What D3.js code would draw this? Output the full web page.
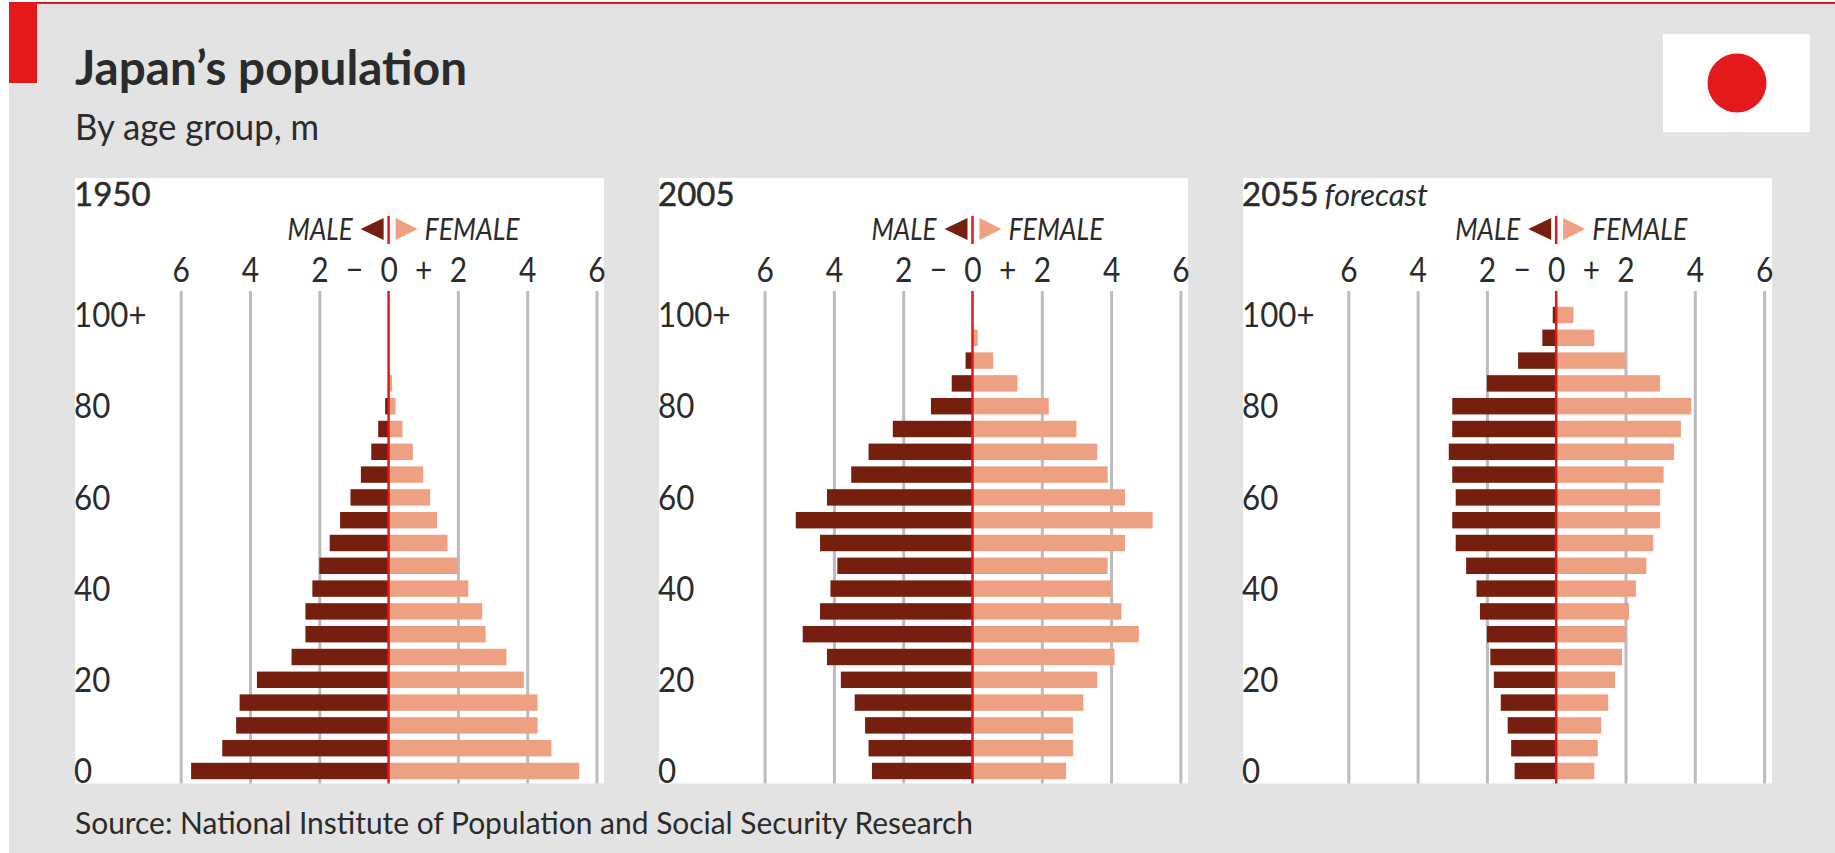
<!DOCTYPE html>
<html>
<head>
<meta charset="utf-8">
<script src="https://cdn.jsdelivr.net/npm/d3@7/dist/d3.min.js"></script>
<style>
html, body { margin: 0; padding: 0; background: #fff; overflow: hidden; }
text { font-family: Lato, "Noto Sans", sans-serif; fill: #2b2b2b; }
</style>
</head>
<body>
<div id="chart-area"></div>
<script>
// Japan's population by age group, millions
const ages = [0, 5, 10, 15, 20, 25, 30, 35, 40, 45, 50, 55, 60, 65, 70, 75, 80, 85, 90, 95, 100]
const ageLabels = [0, 20, 40, 60, 80, 100]
const xTicks = [-6, -4, -2, -1, 0, 1, 2, 4, 6]

const male1950 = [5.7, 4.8, 4.4, 4.3, 3.8, 2.8, 2.4, 2.4, 2.2, 2.0, 1.7, 1.4, 1.1, 0.8, 0.5, 0.3, 0.1, 0, 0, 0, 0]
const female1950 = [5.5, 4.7, 4.3, 4.3, 3.9, 3.4, 2.8, 2.7, 2.3, 2.0, 1.7, 1.4, 1.2, 1.0, 0.7, 0.4, 0.2, 0.1, 0, 0, 0]
const male2005 = [2.9, 3.0, 3.1, 3.4, 3.8, 4.2, 4.9, 4.4, 4.1, 3.9, 4.4, 5.1, 4.2, 3.5, 3.0, 2.3, 1.2, 0.6, 0.2, 0, 0]
const female2005 = [2.7, 2.9, 2.9, 3.2, 3.6, 4.1, 4.8, 4.3, 4.0, 3.9, 4.4, 5.2, 4.4, 3.9, 3.6, 3.0, 2.2, 1.3, 0.6, 0.15, 0]
const male2055 = [1.2, 1.3, 1.4, 1.6, 1.8, 1.9, 2.0, 2.2, 2.3, 2.6, 2.9, 3.0, 2.9, 3.0, 3.1, 3.0, 3.0, 2.0, 1.1, 0.4, 0.1]
const female2055 = [1.1, 1.2, 1.3, 1.5, 1.7, 1.9, 2.0, 2.1, 2.3, 2.6, 2.8, 3.0, 3.0, 3.1, 3.4, 3.6, 3.9, 3.0, 2.0, 1.1, 0.5]

const WIDTH = 1835
const HEIGHT = 853
const RED = "#e3191c"
const DARK = "#761f0e"
const LIGHT = "#eea083"
const UNIT = 34.65 // px per million
const GRID_TOP = 291
const PLOT_BOTTOM = 783.5

const panels = [
  { year: "1950", male: male1950, female: female1950, left: 75, right: 604, zero: 388.6 },
  { year: "2005", male: male2005, female: female2005, left: 659, right: 1188, zero: 972.5 },
  { year: "2055", male: male2055, female: female2055, left: 1243, right: 1772, zero: 1556.2, note: "forecast" }
]

const svg = d3.select("#chart-area").append("svg")
    .attr("width", WIDTH)
    .attr("height", HEIGHT)
    .style("display", "block")

// page furniture
svg.append("rect").attr("x", 9).attr("y", 2).attr("width", WIDTH - 9).attr("height", HEIGHT - 2).attr("fill", "#e3e3e3")
svg.append("rect").attr("x", 9).attr("y", 2).attr("width", WIDTH - 9).attr("height", 2).attr("fill", RED)
svg.append("rect").attr("x", 9).attr("y", 2).attr("width", 28).attr("height", 81).attr("fill", RED)

svg.append("text").attr("x", 75).attr("y", 85)
    .attr("font-size", 48).attr("font-weight", 700)
    .attr("textLength", 392).attr("lengthAdjust", "spacingAndGlyphs")
    .text("Japan’s population")
svg.append("text").attr("x", 75).attr("y", 140)
    .attr("font-size", 36)
    .attr("textLength", 244).attr("lengthAdjust", "spacingAndGlyphs")
    .text("By age group, m")
svg.append("text").attr("x", 75).attr("y", 834)
    .attr("font-size", 31)
    .attr("textLength", 898).attr("lengthAdjust", "spacingAndGlyphs")
    .text("Source: National Institute of Population and Social Security Research")

// flag
svg.append("rect").attr("x", 1663).attr("y", 34).attr("width", 147).attr("height", 98).attr("fill", "#fff")
svg.append("circle").attr("cx", 1737).attr("cy", 83).attr("r", 29.5).attr("fill", RED)

const y = d3.scaleBand()
    .domain(ages)
    .range([782.4, 303.6])
    .paddingInner(0.28)
    .paddingOuter(0.14)

panels.forEach(p => {
  const x = d3.scaleLinear()
      .domain([-6, 6])
      .range([p.zero - 6 * UNIT, p.zero + 6 * UNIT])

  const g = svg.append("g")

  g.append("rect")
      .attr("x", p.left).attr("y", 178)
      .attr("width", p.right - p.left).attr("height", PLOT_BOTTOM - 178)
      .attr("fill", "#fff")

  // panel heading
  const head = g.append("text").attr("x", p.left - 1).attr("y", 206)
  head.append("tspan")
      .attr("font-size", 33)
      .attr("stroke", "#2b2b2b").attr("stroke-width", 0.5)
      .text(p.year)
  if (p.note) {
    head.append("tspan").attr("dx", 6).attr("font-size", 31).attr("font-style", "italic").text(p.note)
  }

  // x axis with gridlines
  const xAxisCall = d3.axisTop(x)
      .tickValues(xTicks)
      .tickSize(-(PLOT_BOTTOM - GRID_TOP))
      .tickPadding(9)
      .tickFormat(d => d === -1 ? "−" : d === 1 ? "+" : Math.abs(d))

  const xAxisGroup = g.append("g")
      .attr("class", "x axis")
      .attr("transform", `translate(0, ${GRID_TOP})`)
      .call(xAxisCall)
  xAxisGroup.select(".domain").remove()
  xAxisGroup.selectAll(".tick line")
      .attr("stroke", "#bcbcbc")
      .attr("stroke-width", 3)
      .attr("display", d => (d === 0 || Math.abs(d) === 1) ? "none" : null)
  xAxisGroup.selectAll(".tick text")
      .attr("font-size", 34)
      .attr("font-family", "Lato")
      .attr("fill", "#2b2b2b")
      .attr("transform", "scale(0.88,1)")

  // age labels
  g.selectAll(".age")
    .data(ageLabels)
    .enter().append("text")
      .attr("class", "age")
      .attr("transform", d => `translate(${p.left - 1}, ${y(d) + y.bandwidth() / 2}) scale(0.92,1)`)
      .attr("dy", "0.36em")
      .attr("font-size", 34)
      .text(d => d === 100 ? "100+" : d)

  // bars
  g.selectAll(".male")
    .data(ages)
    .enter().append("rect")
      .attr("class", "male")
      .attr("x", (d, i) => x(-p.male[i]))
      .attr("y", d => y(d))
      .attr("width", (d, i) => x(0) - x(-p.male[i]))
      .attr("height", y.bandwidth())
      .attr("fill", DARK)

  g.selectAll(".female")
    .data(ages)
    .enter().append("rect")
      .attr("class", "female")
      .attr("x", x(0))
      .attr("y", d => y(d))
      .attr("width", (d, i) => x(p.female[i]) - x(0))
      .attr("height", y.bandwidth())
      .attr("fill", LIGHT)

  // zero line
  g.append("line")
      .attr("x1", x(0)).attr("x2", x(0))
      .attr("y1", GRID_TOP).attr("y2", PLOT_BOTTOM)
      .attr("stroke", RED).attr("stroke-width", 2.5)

  // male / female key
  const key = g.append("g").attr("transform", `translate(${x(0)}, 229)`)
  key.append("line").attr("y1", -13).attr("y2", 15).attr("stroke", RED).attr("stroke-width", 2.5)
  key.append("path").attr("d", "M-5,-11 L-5,11 L-28,0 Z").attr("fill", DARK)
  key.append("path").attr("d", "M7,-11 L7,11 L29,0 Z").attr("fill", LIGHT)
  key.append("text").attr("x", -36).attr("y", 11)
      .attr("text-anchor", "end").attr("font-size", 30).attr("font-style", "italic")
      .attr("textLength", 65).attr("lengthAdjust", "spacingAndGlyphs")
      .text("MALE")
  key.append("text").attr("x", 36).attr("y", 11)
      .attr("font-size", 30).attr("font-style", "italic")
      .attr("textLength", 95).attr("lengthAdjust", "spacingAndGlyphs")
      .text("FEMALE")
})
</script>
</body>
</html>
